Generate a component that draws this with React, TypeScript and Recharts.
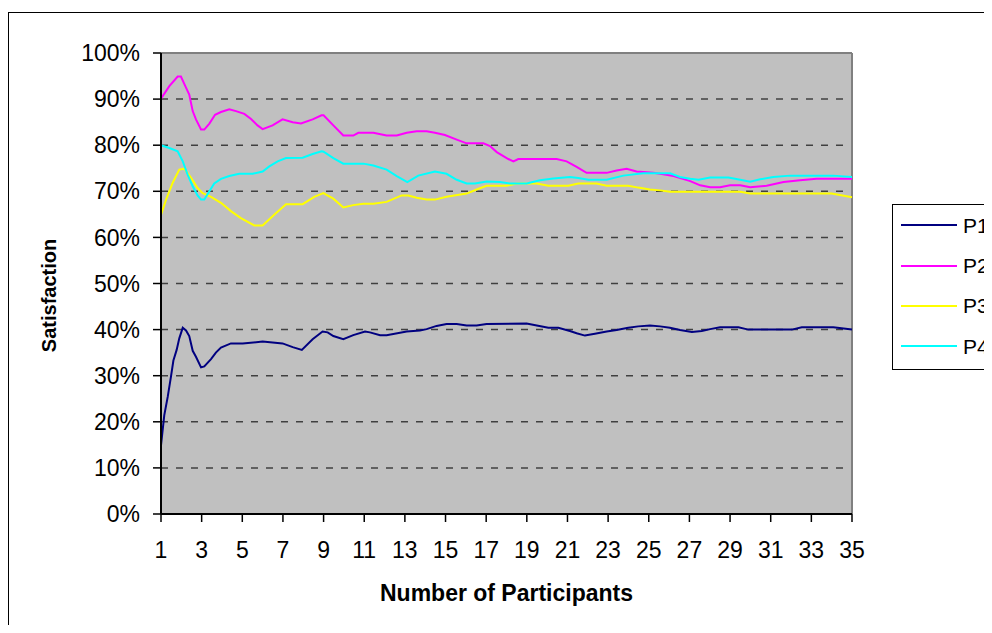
import React from 'react';
import {
  LineChart,
  Line,
  XAxis,
  YAxis,
  CartesianGrid,
  Legend,
  ReferenceLine
} from 'recharts';

// participant position (x) and satisfaction in percent, per series
const p1At = [1, 1.16, 1.33, 1.49, 1.61, 1.77, 1.9, 2.07, 2.23, 2.39, 2.56, 2.72, 2.97, 3.13, 3.46, 3.7, 3.95, 4.44, 5.02, 6, 6.98, 7.48, 7.93, 8.46, 8.95, 9.2, 9.48, 9.97, 10.46, 11.04, 11.28, 11.78, 12.1, 13.09, 13.74, 14.07, 14.56, 15.05, 15.55, 16.04, 16.53, 17.02, 18.99, 19.49, 20.06, 20.55, 21.12, 21.45, 21.86, 22.35, 22.93, 23.42, 23.99, 24.48, 25.06, 25.56, 26.04, 26.54, 27.12, 27.61, 28.02, 28.51, 29.41, 29.9, 32.04, 32.53, 34.08, 35];
const p1Pct = [14.9, 21.4, 25.4, 29.8, 33.3, 35.6, 38.1, 40.4, 39.8, 38.6, 35.4, 34.1, 31.8, 32, 33.6, 35, 36.1, 37, 37, 37.4, 37, 36.2, 35.6, 37.9, 39.6, 39.4, 38.6, 37.9, 38.8, 39.6, 39.4, 38.8, 38.8, 39.6, 39.8, 40.1, 40.8, 41.2, 41.2, 40.9, 40.9, 41.2, 41.3, 40.9, 40.4, 40.4, 39.7, 39.2, 38.7, 39.1, 39.6, 39.9, 40.4, 40.7, 40.9, 40.7, 40.4, 39.9, 39.5, 39.7, 40.1, 40.5, 40.5, 40, 40, 40.5, 40.5, 40];

const p2At = [1, 1.41, 1.82, 1.98, 2.23, 2.39, 2.56, 2.72, 2.97, 3.13, 3.38, 3.66, 3.95, 4.36, 4.69, 5.1, 5.43, 5.75, 6, 6.49, 6.98, 7.48, 7.89, 8.46, 8.9, 9, 9.48, 9.97, 10.46, 10.71, 11.45, 12.1, 12.6, 13.09, 13.58, 14.07, 14.48, 14.97, 15.55, 16.04, 16.86, 17.19, 17.52, 18.09, 18.34, 18.58, 20.47, 20.96, 21.45, 21.94, 22.93, 23.42, 23.91, 24.4, 25.22, 25.56, 26.22, 27.04, 27.53, 28.02, 28.51, 29, 29.5, 29.99, 30.8, 31.63, 32.45, 33.26, 35];
const p2Pct = [90.1, 92.8, 94.9, 94.9, 92.5, 91, 87.4, 85.6, 83.4, 83.4, 84.7, 86.6, 87.2, 87.8, 87.4, 86.8, 85.7, 84.3, 83.5, 84.3, 85.6, 85, 84.7, 85.6, 86.5, 86.5, 84.3, 82.1, 82.1, 82.7, 82.7, 82.1, 82.1, 82.7, 83, 83, 82.7, 82.2, 81.2, 80.4, 80.4, 79.8, 78.5, 77, 76.5, 77, 77, 76.5, 75.3, 74, 74, 74.5, 74.9, 74.3, 74, 73.8, 73.3, 72.2, 71.3, 70.9, 70.9, 71.3, 71.3, 70.9, 71.2, 72, 72.4, 72.7, 72.7];

const p3At = [1, 1.25, 1.57, 1.9, 2.15, 2.48, 2.8, 3.05, 3.46, 3.95, 4.44, 4.93, 5.59, 6, 6.57, 7.15, 7.97, 8.54, 8.99, 9.48, 9.97, 10.46, 10.96, 11.45, 12.1, 12.84, 13.17, 13.58, 14.07, 14.48, 15.05, 16.04, 16.53, 17.02, 18.01, 18.5, 19.49, 20.06, 21.04, 21.53, 22.43, 22.93, 23.99, 24.48, 25.06, 25.56, 26.05, 29.5, 29.99, 34, 35];
const p3Pct = [64.9, 68.2, 71.8, 74.7, 74.9, 72.9, 70.7, 69.6, 68.8, 67.5, 65.7, 64.2, 62.6, 62.6, 64.9, 67.2, 67.2, 68.8, 69.6, 68.4, 66.5, 67, 67.3, 67.3, 67.7, 69.1, 69.1, 68.6, 68.2, 68.2, 68.8, 69.5, 70.4, 71.2, 71.2, 71.7, 71.7, 71.2, 71.2, 71.7, 71.7, 71.2, 71.2, 70.8, 70.4, 70.2, 69.9, 69.9, 69.5, 69.5, 68.7];

const p4At = [1, 1.41, 1.82, 2.07, 2.31, 2.56, 2.8, 2.97, 3.13, 3.38, 3.62, 3.95, 4.36, 4.85, 5.51, 6, 6.33, 6.74, 7.15, 7.97, 8.46, 8.9, 9, 9.48, 9.97, 10.96, 11.45, 12.1, 12.6, 13.12, 13.66, 14.48, 15.05, 15.55, 16.04, 16.45, 17.02, 17.68, 18.17, 18.99, 19.65, 20.3, 21.12, 21.53, 22.03, 22.93, 23.75, 24.73, 26.05, 26.54, 27.04, 27.45, 28.02, 28.92, 29.5, 29.99, 30.48, 31.13, 31.95, 34.08, 35];
const p4Pct = [80, 79.4, 78.7, 76.5, 73.6, 71.1, 69.1, 68.2, 68.2, 70, 71.7, 72.7, 73.3, 73.8, 73.8, 74.3, 75.4, 76.5, 77.2, 77.3, 78.1, 78.7, 78.6, 77.2, 76, 76, 75.6, 74.7, 73.3, 72, 73.4, 74.3, 73.8, 72.5, 71.7, 71.7, 72.1, 72, 71.7, 71.7, 72.4, 72.8, 73.1, 72.9, 72.5, 72.5, 73.4, 73.9, 73.9, 73.1, 72.7, 72.5, 73, 73, 72.5, 72.1, 72.6, 73.1, 73.4, 73.4, 73.1];

const xTicks = [1, 3, 5, 7, 9, 11, 13, 15, 17, 19, 21, 23, 25, 27, 29, 31, 33, 35];
const yTicks = [0, 10, 20, 30, 40, 50, 60, 70, 80, 90, 100];
const gridValues = [10, 20, 30, 40, 50, 60, 70, 80, 90];

const FONT = '"Liberation Sans", Arial, Helvetica, sans-serif';

const toPoints = (at: number[], pct: number[]) =>
  at.map((x, i) => ({ x, y: pct[i] }));

const series = [
  { name: 'P1', color: '#000080', data: toPoints(p1At, p1Pct) },
  { name: 'P2', color: '#FF00FF', data: toPoints(p2At, p2Pct) },
  { name: 'P3', color: '#FFFF00', data: toPoints(p3At, p3Pct) },
  { name: 'P4', color: '#00FFFF', data: toPoints(p4At, p4Pct) }
];

// boxed legend, one row per series
const LegendBox = ({ payload }: any) => (
  <div
    style={{
      width: 130,
      height: 166,
      boxSizing: 'border-box',
      border: '1px solid #000',
      background: '#fff'
    }}
  >
    {(payload || []).map((entry: any) => (
      <div key={entry.value} style={{ height: 40.4, display: 'flex', alignItems: 'center' }}>
        <span
          style={{ display: 'inline-block', width: 56, height: 2, marginLeft: 8, background: entry.color }}
        />
        <span style={{ marginLeft: 6, fontSize: 21, lineHeight: 1, color: '#000' }}>{entry.value}</span>
      </div>
    ))}
  </div>
);

const renderYTitle = (props: any) => {
  const vb = props.viewBox || { x: 0, y: 40, width: 152, height: 461 };
  const x = vb.x + 47;
  const y = vb.y + vb.height / 2 + 12;
  return (
    <text
      x={x}
      y={y}
      transform={`rotate(-90 ${x} ${y})`}
      textAnchor="middle"
      fontSize={20}
      fontWeight="bold"
      fill="#000"
    >
      Satisfaction
    </text>
  );
};

export default function App() {
  return (
    <div style={{ paddingTop: 4 }}>
      <div
        style={{
          width: 984,
          height: 613,
          boxSizing: 'border-box',
          borderLeft: '1px solid #000',
          borderTop: '1px solid #000',
          overflow: 'hidden',
          background: '#fff',
          fontFamily: FONT
        }}
      >
        <LineChart width={990} height={612} margin={{ top: 40, right: 147, bottom: 11, left: 0 }}>
          <CartesianGrid
            vertical={false}
            horizontalValues={gridValues}
            fill="#C0C0C0"
            stroke="#404040"
            strokeWidth={1.5}
            strokeDasharray="7 8"
          />
          <XAxis
            dataKey="x"
            type="number"
            domain={[1, 35]}
            ticks={xTicks}
            interval={0}
            height={100}
            tickSize={8}
            tickMargin={20}
            axisLine={{ stroke: '#000', strokeWidth: 2 }}
            tickLine={{ stroke: '#000', strokeWidth: 1.5 }}
            tick={{ fill: '#000', fontSize: 23 }}
            label={{
              value: 'Number of Participants',
              position: 'insideBottom',
              offset: 13,
              fontSize: 23,
              fontWeight: 'bold',
              fill: '#000'
            }}
          />
          <YAxis
            type="number"
            domain={[0, 100]}
            ticks={yTicks}
            interval={0}
            width={152}
            tickSize={8}
            tickMargin={13}
            tickFormatter={(v: number) => `${v}%`}
            axisLine={{ stroke: '#000', strokeWidth: 2 }}
            tickLine={{ stroke: '#000', strokeWidth: 1.5 }}
            tick={{ fill: '#000', fontSize: 23 }}
            label={renderYTitle}
          />
          <ReferenceLine y={100} stroke="#808080" strokeWidth={2} />
          <ReferenceLine x={35} stroke="#808080" strokeWidth={2} />
          <Legend
            layout="vertical"
            align="center"
            verticalAlign="middle"
            wrapperStyle={{ left: 883, top: 191 }}
            content={LegendBox}
          />
          {series.map(s => (
            <Line
              key={s.name}
              data={s.data}
              dataKey="y"
              name={s.name}
              type="linear"
              stroke={s.color}
              strokeWidth={2}
              dot={false}
              activeDot={false}
              isAnimationActive={false}
            />
          ))}
        </LineChart>
      </div>
    </div>
  );
}
